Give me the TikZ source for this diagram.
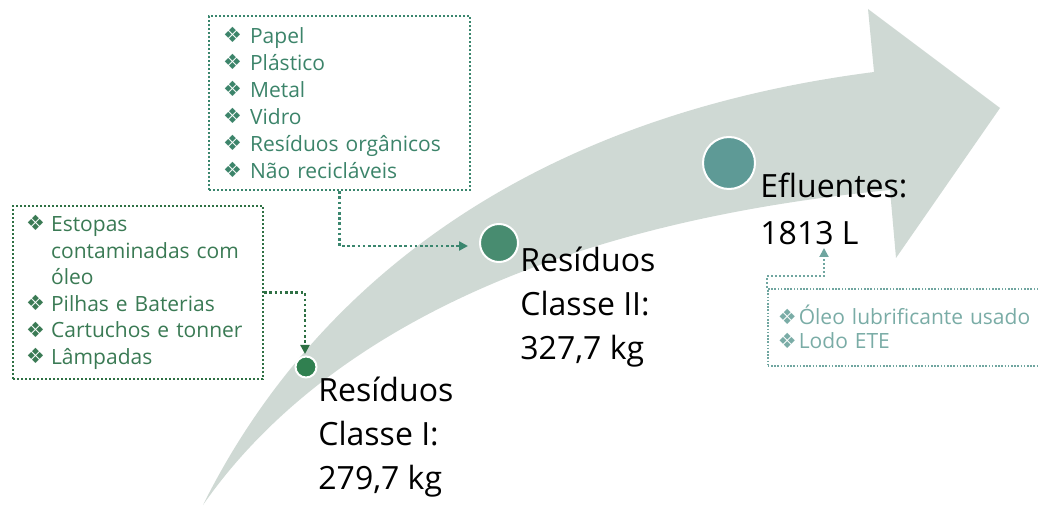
\documentclass[tikz,border=0pt]{standalone}
\usepackage{fontspec}
\setmainfont{Open Sans}
\newfontfamily\dejavu{DejaVu Sans}
\usetikzlibrary{arrows.meta}
\definecolor{arrowgray}{RGB}{207,217,212}
\definecolor{cOne}{RGB}{48,128,80}
\definecolor{cTwo}{RGB}{72,140,112}
\definecolor{cThree}{RGB}{94,154,150}
\definecolor{txtOne}{RGB}{58,122,84}
\definecolor{txtTwo}{RGB}{60,132,106}
\definecolor{txtThree}{RGB}{122,172,166}
\definecolor{lineOne}{RGB}{46,112,68}
\definecolor{lineTwo}{RGB}{58,134,110}
\definecolor{lineThree}{RGB}{112,166,160}
\newcommand{\bul}[1]{\makebox[#1][l]{\dejavu\fontsize{10.5pt}{10.5pt}\selectfont\raisebox{0.3pt}{❖}}}
\begin{document}
\begin{tikzpicture}[x=0.5pt,y=-0.5pt,
  listbox/.style={draw, line width=1.1pt, dash pattern=on 1.1pt off 0.9pt, anchor=north west,
    align=left, inner ysep=0pt, font=\fontsize{10.5pt}{13.3pt}\selectfont},
  biglabel/.style={anchor=north west, inner sep=0pt, align=left, text=black,
    font=\fontsize{16pt}{22pt}\selectfont},
  conn/.style={line width=1.3pt, dash pattern=on 1.3pt off 1.3pt,
    -{Triangle[length=4.5pt,width=4.5pt]}},
  dotc/.style={circle, draw=white, line width=1pt, inner sep=0pt}]
\useasboundingbox (0,0) rectangle (1038,507);
\begin{scope}
\clip (0,0) rectangle (1038,507);
% curved arrow
\fill[arrowgray] (203,505) .. controls (300,310) and (500,120) .. (874,72)
  -- (868,9) -- (1000,108) -- (896,258) -- (890,190)
  .. controls (480,230) and (290,380) .. (203,505) -- cycle;
% milestone dots
\node[dotc, fill=cOne, minimum size=10.5pt] (dI) at (306,367) {};
\node[dotc, fill=cTwo, minimum size=19pt] (dII) at (499,243) {};
\node[dotc, fill=cThree, minimum size=26pt] (dE) at (729,163) {};
% labels
\node[biglabel] (lI) at (318,377) {Resíduos\\Classe I:\\279,7 kg};
\node[biglabel] (lII) at (520,247) {Resíduos\\Classe II:\\327,7 kg};
\node[biglabel, font=\fontsize{16pt}{23.5pt}\selectfont] (lE) at (760,173) {Efluentes:\\1813 L};
% list boxes
\node[listbox, draw=lineOne, text=txtOne, minimum width=125pt, minimum height=86.5pt,
  text width=112pt, inner xsep=6.5pt] (box1) at (12,205)
  {\bul{12.5pt}Estopas\\\hspace*{12.5pt}contaminadas com\\\hspace*{12.5pt}óleo\\
   \bul{12.5pt}Pilhas e Baterias\\\bul{12.5pt}Cartuchos e tonner\\\bul{12.5pt}Lâmpadas};
\node[listbox, draw=lineTwo, text=txtTwo, minimum width=130.5pt, minimum height=87pt,
  text width=116.5pt, inner xsep=7pt, font=\fontsize{10.5pt}{13.5pt}\selectfont] (box2) at (208,15)
  {\bul{13.5pt}Papel\\\bul{13.5pt}Plástico\\\bul{13.5pt}Metal\\\bul{13.5pt}Vidro\\
   \bul{13.5pt}Resíduos orgânicos\\\bul{13.5pt}Não recicláveis};
\node[listbox, draw=lineThree, text=txtThree, line width=0.8pt, dash pattern=on 0.8pt off 0.8pt,
  minimum width=150pt, minimum height=38.5pt, text width=140pt, inner xsep=5pt,
  font=\fontsize{10.5pt}{12pt}\selectfont] (box3) at (767,288)
  {\bul{10.5pt}Óleo lubrificante usado\\\bul{10.5pt}Lodo ETE};
% connectors
\coordinate (t1) at (305,354);
\coordinate (t2) at (468,246);
\coordinate (t3) at (824,248);
\draw[conn, lineOne] (box1.east) -| (t1);
\draw[conn, lineTwo] (box2.south) |- (t2);
\draw[conn, lineThree, line width=1pt, dash pattern=on 1pt off 1pt] (box3.north west) -- ++(0,-12) -| (t3);
\end{scope}
\end{tikzpicture}
\end{document}
